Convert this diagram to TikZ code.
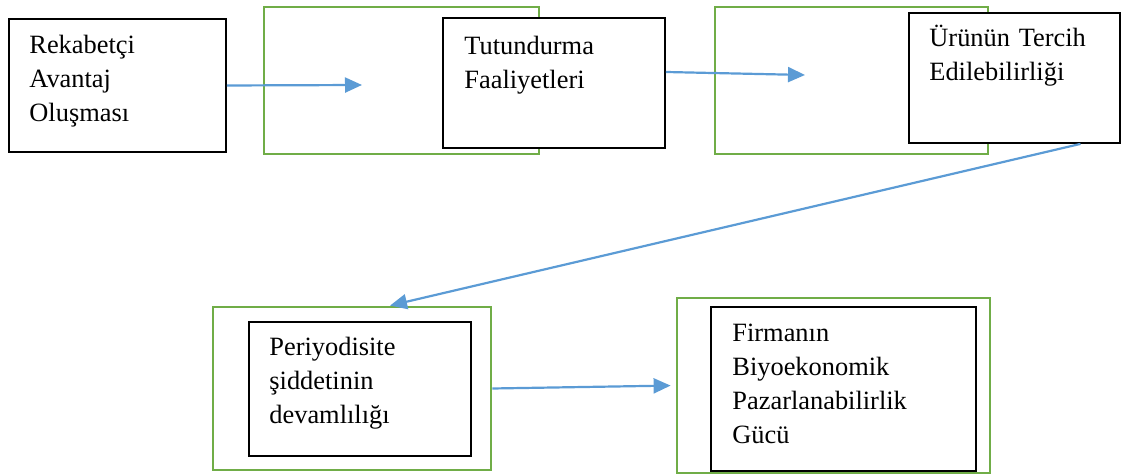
\documentclass[tikz,border=0pt]{standalone}
\usepackage{fontspec}
\setmainfont{Liberation Serif}
\usepackage{tikz}
\usetikzlibrary{arrows.meta, positioning, fit, calc}
\definecolor{boxgreen}{HTML}{70AD47}
\definecolor{arrblue}{HTML}{5B9BD5}

\begin{document}
\begin{tikzpicture}[x=0.5pt, y=-0.5pt,
	blkbox/.style={draw=black, fill=white, line width=0.9pt, inner sep=0pt},
	grnbox/.style={draw=boxgreen, line width=1.4pt, inner sep=0pt},
	boxtxt/.style={anchor=base west, inner sep=0pt, text width=140pt, align=left, font=\fontsize{13.2}{17}\selectfont},
	blarrow/.style={draw=arrblue, line width=1.1pt, -{Triangle[length=8.5pt, width=7.5pt]}}]
		\useasboundingbox (0,0) rectangle (1128,474);
		% top row
		\node[blkbox, fit={(9,19) (226,152)}] (rek) {};
		\node[grnbox, fit={(264,7) (539,154)}] (grn1) {};
		\node[blkbox, fit={(443,18) (665,148)}] (tut) {};
		\node[grnbox, fit={(715,7) (988,154)}] (grn2) {};
		\node[blkbox, fit={(909,13) (1120,143)}] (urun) {};
		% bottom row
		\node[grnbox, fit={(213,307) (491,470)}] (grn3) {};
		\node[blkbox, fit={(249,322) (471,456)}] (per) {};
		\node[grnbox, fit={(677,298) (990,473)}] (grn4) {};
		\node[blkbox, fit={(711,307) (976,471)}] (firm) {};
		% texts
		\node[boxtxt] (rektxt) at (29,54) {Rekabetçi\\Avantaj\\Oluşması};
		\node[boxtxt] (tuttxt) at (464,55) {Tutundurma\\Faaliyetleri};
		\node[boxtxt] (uruntxt) at (929,47) {Ürünün Tercih\\Edilebilirliği};
		\node[boxtxt] (pertxt) at (269,356) {Periyodisite\\şiddetinin\\devamlılığı};
		\node[boxtxt] (firmtxt) at (732,342) {Firmanın\\Biyoekonomik\\Pazarlanabilirlik\\Gücü};
		% arrows
		\coordinate (c1) at (362,85);
		\coordinate (c2) at (805,75);
		\draw[blarrow] (rek.east) -- (c1);
		\draw[blarrow] ([yshift=5.5pt]tut.east) -- (c2);
		\draw[blarrow] ([xshift=33pt]urun.south) -- ([xshift=19pt]grn3.north);
		\draw[blarrow, shorten >=2.5pt] (grn3.east) -- (grn4.west);
	\end{tikzpicture}
\end{document}
